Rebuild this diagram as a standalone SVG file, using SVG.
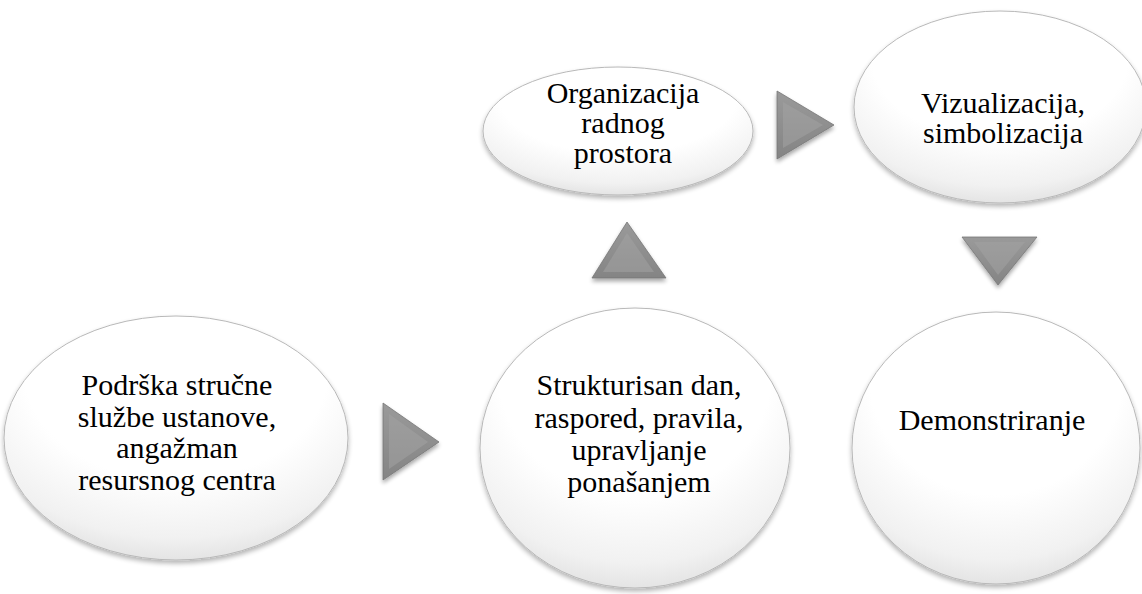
<svg xmlns="http://www.w3.org/2000/svg" width="1142" height="594" viewBox="0 0 1142 594">
  <style>
    .node { fill: url(#ellGrad); stroke: #b8b8b8; stroke-width: 1; filter: url(#ellShadow); }
    .tri { fill: url(#triGrad); stroke: #777777; stroke-width: 0.8; filter: url(#triShadow); }
    .bevel { fill: #a3a3a3; opacity: 0.55; }
  </style>
  <defs>
    <radialGradient id="ellGrad" cx="0.5" cy="0.3" r="0.8" fx="0.5" fy="0.15">
      <stop offset="0" stop-color="#ffffff"/>
      <stop offset="0.55" stop-color="#ffffff"/>
      <stop offset="0.8" stop-color="#f1f1f1"/>
      <stop offset="1" stop-color="#d6d6d6"/>
    </radialGradient>
    <linearGradient id="triGrad" x1="0" y1="0" x2="0" y2="1">
      <stop offset="0" stop-color="#9a9a9a"/>
      <stop offset="1" stop-color="#848484"/>
    </linearGradient>
    <filter id="ellShadow" x="-10%" y="-10%" width="120%" height="125%">
      <feGaussianBlur in="SourceAlpha" stdDeviation="2.5"/>
      <feOffset dx="0" dy="3" result="b"/>
      <feComponentTransfer><feFuncA type="linear" slope="0.3"/></feComponentTransfer>
      <feMerge><feMergeNode/><feMergeNode in="SourceGraphic"/></feMerge>
    </filter>
    <filter id="triShadow" x="-20%" y="-20%" width="140%" height="150%">
      <feGaussianBlur in="SourceAlpha" stdDeviation="2"/>
      <feOffset dx="0" dy="3" result="b"/>
      <feComponentTransfer><feFuncA type="linear" slope="0.35"/></feComponentTransfer>
      <feMerge><feMergeNode/><feMergeNode in="SourceGraphic"/></feMerge>
    </filter>
  </defs>

  <rect width="1142" height="594" fill="#ffffff"/>

  <g id="connectors">
    <g id="arrow1">
      <polygon class="tri" points="383,403 439,442 383,480"/>
      <polygon class="bevel" points="389,414 428,442 389,469"/>
    </g>
    <g id="arrow2">
      <polygon class="tri" points="592,278 627,222 666,278"/>
      <polygon class="bevel" points="603,272 627,233 654,272"/>
    </g>
    <g id="arrow3">
      <polygon class="tri" points="777,91 834,125 777,159"/>
      <polygon class="bevel" points="783,102 823,125 783,148"/>
    </g>
    <g id="arrow4">
      <polygon class="tri" points="962,237 1037,237 998,285"/>
      <polygon class="bevel" points="974,242 1025,242 998,275"/>
    </g>
  </g>

  <g font-family="Liberation Serif, serif" font-size="30" fill="#000000" text-anchor="middle">
  <g id="node-podrska">
    <ellipse class="node" cx="176" cy="438" rx="172" ry="122"/>
    <text x="177" y="395">Podrška stručne</text>
    <text x="177" y="427">službe ustanove,</text>
    <text x="177" y="458">angažman</text>
    <text x="177" y="490">resursnog centra</text>
  </g>

  <g id="node-struktura">
    <ellipse class="node" cx="635" cy="448" rx="155" ry="140"/>
    <text x="639" y="395">Strukturisan dan,</text>
    <text x="639" y="428">raspored, pravila,</text>
    <text x="639" y="460">upravljanje</text>
    <text x="639" y="492">ponašanjem</text>
  </g>

  <g id="node-organizacija">
    <ellipse class="node" cx="618" cy="131" rx="135" ry="64"/>
    <text x="623" y="103">Organizacija</text>
    <text x="623" y="133">radnog</text>
    <text x="623" y="163">prostora</text>
  </g>

  <g id="node-vizualizacija">
    <ellipse class="node" cx="1000" cy="107" rx="146" ry="96"/>
    <text x="1003" y="113">Vizualizacija,</text>
    <text x="1003" y="143">simbolizacija</text>
  </g>

  <g id="node-demonstriranje">
    <ellipse class="node" cx="996" cy="448" rx="144" ry="136"/>
    <text x="992" y="430">Demonstriranje</text>
  </g>
  </g>
</svg>
